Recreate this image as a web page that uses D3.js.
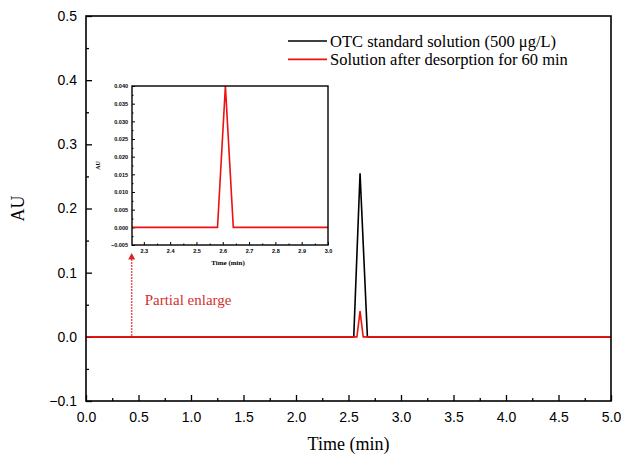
<!DOCTYPE html>
<html>
<head>
<meta charset="utf-8">
<script src="https://cdn.jsdelivr.net/npm/d3@7"></script>
<style>
  body { margin: 0; background: #fff; }
  .axis path, .axis line { stroke: #000; }
  .axis text { font-family: "Liberation Sans", Arial, sans-serif; fill: #000; }
</style>
</head>
<body>
<div id="graph"></div>
<script>
//Javascript Document

(function(){
	"use strict";

	// data
	var otcTime = [0, 2.55, 2.61, 2.68, 5.0];
	var otcAU = [0, 0, 0.255, 0, 0];
	var desorbTime = [0, 2.58, 2.61, 2.64, 5.0];
	var desorbAU = [0, 0, 0.04, 0, 0];
	var seriesNames = ["OTC standard solution (500 \u03bcg/L)", "Solution after desorption for 60 min"];
	var seriesColors = ["#000000", "#ee1111"];

	var xTicks = [0, 0.5, 1.0, 1.5, 2.0, 2.5, 3.0, 3.5, 4.0, 4.5, 5.0];
	var yTicks = [-0.1, 0.0, 0.1, 0.2, 0.3, 0.4, 0.5];
	var insetXTicks = [2.3, 2.4, 2.5, 2.6, 2.7, 2.8, 2.9, 3.0];
	var insetYTicks = [-0.005, 0.000, 0.005, 0.010, 0.015, 0.020, 0.025, 0.030, 0.035, 0.040];

	var W = 621, H = 456;
	var margin = {top: 16, right: 10, bottom: 55, left: 86};
	var width = W - margin.left - margin.right;
	var height = H - margin.top - margin.bottom;

	var svg = d3.select("#graph").append("svg")
		.attr("width", W)
		.attr("height", H);
	var g = svg.append("g").attr("transform", "translate(" + margin.left + "," + margin.top + ")");

	var x = d3.scaleLinear().domain([0, 5]).range([0, width]);
	var y = d3.scaleLinear().domain([-0.1, 0.5]).range([height, 0]);

	function zip(xs, ys) {
		return xs.map(function(v, i) { return [v, ys[i]]; });
	}
	var series = [zip(otcTime, otcAU), zip(desorbTime, desorbAU)];

	// minor ticks first, then the labelled ones
	g.append("g")
		.attr("class", "axis")
		.attr("transform", "translate(0," + height + ")")
		.call(d3.axisBottom(x).tickValues(d3.range(0.25, 5, 0.5)).tickSize(-3).tickFormat(""))
		.call(function(a) { a.select(".domain").remove(); });
	g.append("g")
		.attr("class", "axis")
		.call(d3.axisLeft(y).tickValues(d3.range(-0.05, 0.5, 0.1)).tickSize(-3).tickFormat(""))
		.call(function(a) { a.select(".domain").remove(); });

	var xAxis = g.append("g")
		.attr("class", "axis")
		.attr("transform", "translate(0," + height + ")")
		.call(d3.axisBottom(x).tickValues(xTicks).tickSize(-6).tickPadding(11).tickFormat(d3.format(".1f")));
	xAxis.selectAll("text").style("font-size", "14px");
	xAxis.select(".domain").remove();

	var yAxis = g.append("g")
		.attr("class", "axis")
		.call(d3.axisLeft(y).tickValues(yTicks).tickSize(-6).tickPadding(9).tickFormat(d3.format(".1f")));
	yAxis.selectAll("text").style("font-size", "14px");
	yAxis.select(".domain").remove();
	g.selectAll(".axis line").attr("stroke-width", 1.3);

	// the series lines
	var line = d3.line().x(function(d) { return x(d[0]); }).y(function(d) { return y(d[1]); });
	g.selectAll(".series")
		.data(series)
		.enter().append("path")
		.attr("class", "series")
		.attr("d", line)
		.attr("fill", "none")
		.attr("stroke", function(d, i) { return seriesColors[i]; })
		.attr("stroke-width", 1.6);

	// frame round the plot
	g.append("rect")
		.attr("width", width)
		.attr("height", height)
		.attr("fill", "none")
		.attr("stroke", "#000")
		.attr("stroke-width", 1.6);

	// axis titles
	svg.append("text")
		.attr("x", margin.left + width / 2)
		.attr("y", 450)
		.attr("text-anchor", "middle")
		.style("font", "18px 'Liberation Serif', 'Times New Roman', serif")
		.text("Time (min)");
	svg.append("text")
		.attr("transform", "translate(24," + (margin.top + y(0.2)) + ") rotate(-90)")
		.attr("text-anchor", "middle")
		.style("font", "18px 'Liberation Serif', 'Times New Roman', serif")
		.text("AU");

	// legend
	var legend = g.selectAll(".legend")
		.data(seriesNames)
		.enter().append("g")
		.attr("class", "legend")
		.attr("transform", function(d, i) { return "translate(202," + (25 + i * 18.4) + ")"; });
	legend.append("line")
		.attr("x1", 0).attr("x2", 39)
		.attr("stroke", function(d, i) { return seriesColors[i]; })
		.attr("stroke-width", 1.6);
	legend.append("text")
		.attr("x", 42)
		.attr("dy", "0.35em")
		.style("font", "16.5px 'Liberation Serif', 'Times New Roman', serif")
		.text(function(d) { return d; });

	// inset: partial enlarge of the desorption peak
	var inset = {left: 132, top: 86, width: 196, height: 159};
	var ix = d3.scaleLinear().domain([2.255, 3.0]).range([0, inset.width]);
	var iy = d3.scaleLinear().domain([-0.005, 0.040]).range([inset.height, 0]);
	var ig = svg.append("g").attr("transform", "translate(" + inset.left + "," + inset.top + ")");

	ig.append("clipPath").attr("id", "inset-clip")
		.append("rect").attr("width", inset.width).attr("height", inset.height);

	ig.append("rect")
		.attr("width", inset.width)
		.attr("height", inset.height)
		.attr("fill", "#fff");

	ig.append("g")
		.attr("class", "axis")
		.attr("transform", "translate(0," + inset.height + ")")
		.call(d3.axisBottom(ix).tickValues(d3.range(2.35, 3.0, 0.1)).tickSize(-1.5).tickFormat(""))
		.call(function(a) { a.select(".domain").remove(); });
	ig.append("g")
		.attr("class", "axis")
		.call(d3.axisLeft(iy).tickValues(d3.range(-0.0025, 0.04, 0.005)).tickSize(-1.5).tickFormat(""))
		.call(function(a) { a.select(".domain").remove(); });

	var ixAxis = ig.append("g")
		.attr("class", "axis")
		.attr("transform", "translate(0," + inset.height + ")")
		.call(d3.axisBottom(ix).tickValues(insetXTicks).tickSize(-3).tickPadding(4).tickFormat(d3.format(".1f")));
	ixAxis.select(".domain").remove();
	var iyAxis = ig.append("g")
		.attr("class", "axis")
		.call(d3.axisLeft(iy).tickValues(insetYTicks).tickSize(-3).tickPadding(4).tickFormat(d3.format(".3f")));
	iyAxis.select(".domain").remove();
	ig.selectAll(".axis text").style("font-size", "5.5px").style("font-weight", "bold");
	ig.selectAll(".axis line").attr("stroke-width", 1);

	var iline = d3.line().x(function(d) { return ix(d[0]); }).y(function(d) { return iy(d[1]); });
	ig.append("path")
		.datum(series[1])
		.attr("clip-path", "url(#inset-clip)")
		.attr("d", iline)
		.attr("fill", "none")
		.attr("stroke", seriesColors[1])
		.attr("stroke-width", 1.6);

	ig.append("rect")
		.attr("width", inset.width)
		.attr("height", inset.height)
		.attr("fill", "none")
		.attr("stroke", "#000")
		.attr("stroke-width", 1.4);

	ig.append("text")
		.attr("x", inset.width / 2 - 2)
		.attr("y", inset.height + 20)
		.attr("text-anchor", "middle")
		.style("font", "bold 7px 'Liberation Serif', 'Times New Roman', serif")
		.text("Time (min)");
	ig.append("text")
		.attr("transform", "translate(-32," + (inset.height / 2) + ") rotate(-90)")
		.attr("text-anchor", "middle")
		.style("font", "bold 6px 'Liberation Serif', 'Times New Roman', serif")
		.text("AU");

	// dotted arrow and its note
	var arrowX = x(0.435);
	var arrowTop = inset.top + inset.height + 8 - margin.top;
	g.append("line")
		.attr("x1", arrowX).attr("x2", arrowX)
		.attr("y1", y(0) - 1).attr("y2", arrowTop + 5)
		.attr("stroke", "#dd2222")
		.attr("stroke-width", 1.5)
		.attr("stroke-dasharray", "1.5,1.5");
	g.append("path")
		.attr("d", "M" + arrowX + "," + arrowTop + "l-3.5,6.5h7z")
		.attr("fill", "#dd2222");
	g.append("text")
		.attr("x", arrowX + 13)
		.attr("y", y(0) - 32)
		.attr("fill", "#d43030")
		.style("font", "15px 'Liberation Serif', 'Times New Roman', serif")
		.text("Partial enlarge");

})();
</script>
</body>
</html>
